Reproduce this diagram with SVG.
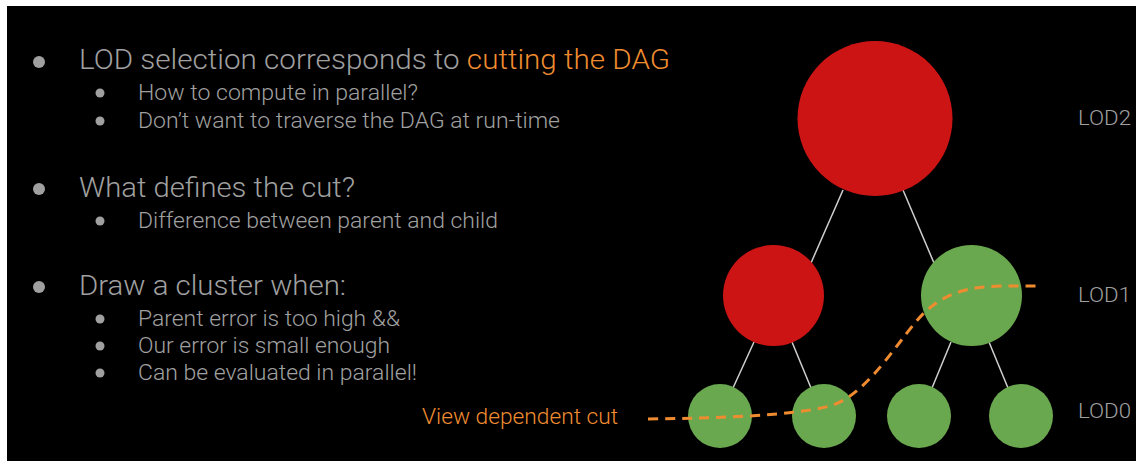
<svg xmlns="http://www.w3.org/2000/svg" width="1136" height="461" viewBox="0 0 1136 461">
<style>
.t{font-family:Roboto,"Liberation Sans",sans-serif;font-weight:300;fill:#a0a0a0}
.h{font-size:27px}
.s{font-size:22px}
.o{fill:#f08c30}
.lod{font-size:21px}
.b{fill:#a0a0a0}
.edge{stroke:#d0d0d0;stroke-width:1.5;fill:none}
.red{fill:#cc1414}
.green{fill:#6aa84f}
.cut{fill:none;stroke:#f08c30;stroke-width:3;stroke-dasharray:10 7}
</style>
<rect x="0" y="0" width="1136" height="461" fill="#ffffff"/>
<rect x="7" y="6" width="1129" height="455" fill="#000000"/>
<g id="text">
<circle class="b" cx="39" cy="62" r="6"/>
<text class="t h" x="79" y="69" textLength="591" lengthAdjust="spacingAndGlyphs">LOD selection corresponds to <tspan class="o">cutting the DAG</tspan></text>
<circle class="b" cx="100" cy="93" r="4.5"/>
<text class="t s" x="138" y="100" textLength="280" lengthAdjust="spacingAndGlyphs">How to compute in parallel?</text>
<circle class="b" cx="100" cy="121" r="4.5"/>
<text class="t s" x="138" y="128" textLength="422" lengthAdjust="spacingAndGlyphs">Don’t want to traverse the DAG at run-time</text>
<circle class="b" cx="39" cy="189" r="6"/>
<text class="t h" x="79" y="197" textLength="276" lengthAdjust="spacingAndGlyphs">What defines the cut?</text>
<circle class="b" cx="100" cy="221" r="4.5"/>
<text class="t s" x="138" y="228" textLength="360" lengthAdjust="spacingAndGlyphs">Difference between parent and child</text>
<circle class="b" cx="39" cy="287" r="6"/>
<text class="t h" x="79" y="295" textLength="267" lengthAdjust="spacingAndGlyphs">Draw a cluster when:</text>
<circle class="b" cx="100" cy="319" r="4.5"/>
<text class="t s" x="138" y="326" textLength="262" lengthAdjust="spacingAndGlyphs">Parent error is too high &amp;&amp;</text>
<circle class="b" cx="100" cy="346" r="4.5"/>
<text class="t s" x="138" y="353" textLength="252" lengthAdjust="spacingAndGlyphs">Our error is small enough</text>
<circle class="b" cx="100" cy="373" r="4.5"/>
<text class="t s" x="138" y="380" textLength="279" lengthAdjust="spacingAndGlyphs">Can be evaluated in parallel!</text>
</g>
<g id="connectors">
<line class="edge" x1="843" y1="190" x2="811" y2="263"/>
<line class="edge" x1="903" y1="190" x2="934" y2="263"/>
<line class="edge" x1="754" y1="342" x2="733" y2="388"/>
<line class="edge" x1="792" y1="342" x2="811" y2="388"/>
<line class="edge" x1="951" y1="342" x2="932" y2="388"/>
<line class="edge" x1="989" y1="342" x2="1008" y2="388"/>
</g>
<g id="lod2-node"><circle class="red" cx="875" cy="118.5" r="77.5"/></g>
<g id="lod1-left"><circle class="red" cx="773.5" cy="295.5" r="50.5"/></g>
<g id="lod1-right"><circle class="green" cx="971.5" cy="295.5" r="50.5"/></g>
<g id="lod0-1"><circle class="green" cx="720" cy="416" r="32"/></g>
<g id="lod0-2"><circle class="green" cx="824" cy="416" r="32"/></g>
<g id="lod0-3"><circle class="green" cx="919" cy="416" r="32"/></g>
<g id="lod0-4"><circle class="green" cx="1021" cy="416" r="32"/></g>
<g id="cut">
<path class="cut" d="M648,419 C720,418 790,416 830,406 C870,394 900,336 925,312 C945,294 965,287 1000,286 L1042,286"/>
<text class="t o" x="422" y="424" font-size="22" textLength="196" lengthAdjust="spacingAndGlyphs">View dependent cut</text>
</g>
<g id="labels">
<text class="t lod" x="1078" y="125" textLength="53" lengthAdjust="spacingAndGlyphs">LOD2</text>
<text class="t lod" x="1078" y="302" textLength="53" lengthAdjust="spacingAndGlyphs">LOD1</text>
<text class="t lod" x="1078" y="418" textLength="53" lengthAdjust="spacingAndGlyphs">LOD0</text>
</g>
</svg>
